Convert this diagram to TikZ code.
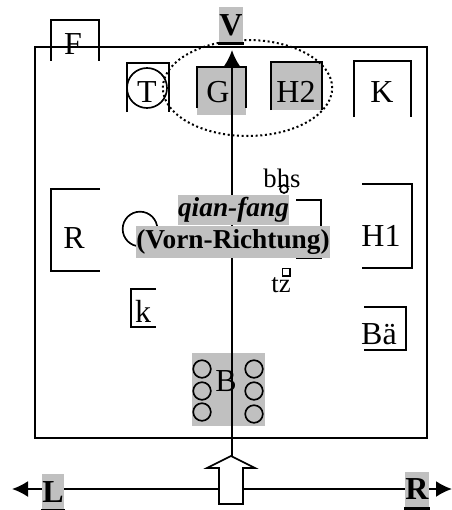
\documentclass[tikz,border=0pt]{standalone}
\usepackage{fontspec}
\usetikzlibrary{arrows.meta}
\setmainfont{Liberation Serif}
\definecolor{labelgray}{HTML}{C0C0C0}
\tikzset{
	wall/.style={line width=1.25pt, line join=miter},
	shade box/.style={fill=labelgray, inner sep=0pt},
	big/.style={font=\fontsize{24}{24}\selectfont, inner sep=0pt},
	small/.style={font=\fontsize{20}{20}\selectfont, inner sep=0pt},
	label box/.style={shade box, font=\fontsize{20.5}{20.5}\selectfont\bfseries}
}
\begin{document}
\begin{tikzpicture}[
		x=0.75pt, y=-0.75pt,
		>={Latex[length=12pt,width=12pt]},
		line width=1.25pt
	]
	\useasboundingbox (0,0) rectangle (452,510);

	\path
	(35,47) coordinate (FrameA)
	(427,438) coordinate (FrameB)
	(232,459) coordinate (AxisS)
	(232,50) coordinate (AxisN)
	(12,489) coordinate (West)
	(452,489) coordinate (East)
	;

	% shaded areas under the axis
	\node[shade box, minimum width=36.5pt, minimum height=36pt] (Gbox) at (221.5,91) {};
	\node[shade box, minimum width=37.5pt, minimum height=36pt] (Hbox) at (296,86) {};
	\node[shade box, minimum width=54.75pt, minimum height=54.75pt] (Bbox) at (228.5,389.5) {};

	\draw[wall] (FrameA) rectangle (FrameB);

	% open-sided furniture
	\foreach \xa/\ya/\xb/\yb in {51/61/99/20, 127/112/169/63, 197/108/246/67, 271/110/322/62, 354/117/411/61} {
		\draw[wall] (\xa,\ya) -- (\xa,\yb) -- (\xb,\yb) -- (\xb,\ya);
	}
	\foreach \xa/\ya/\xb/\yb in {100/189/51/271, 156/289/131/327} {
		\draw[wall] (\xa,\ya) -- (\xb,\ya) -- (\xb,\yb) -- (\xa,\yb);
	}
	\foreach \xa/\ya/\xb/\yb in {362/184/412/268, 364/307/406/350, 296/200/321/258} {
		\draw[wall] (\xa,\ya) -- (\xb,\ya) -- (\xb,\yb) -- (\xa,\yb);
	}

	\draw (147,88) circle (15pt);
	\draw (140,229) circle (13pt);
	\draw (284,189) circle (3pt);
	\draw (282.5,268.5) rectangle (290,276);
	\draw[dotted, line width=1.5pt] (247.5,88) ellipse (63.5pt and 36pt);

	\foreach \y in {369,391,412} {
		\draw (202,\y) circle (6.6pt);
	}
	\foreach \y in {369,391,414} {
		\draw (254,\y) circle (6.6pt);
	}

	\draw[->, line width=1.5pt] (AxisS) -- (AxisN);
	\draw[<->, line width=1.5pt] (West) -- (East);

	\draw[fill=white, line join=miter] (231,456) -- (255,468) -- (243,468) -- (243,504)
	-- (219,504) -- (219,468) -- (207,468) -- cycle;

	\node[big] (F) at (73,44) {F};
	\node[big] (T) at (147,92) {T};
	\node[big] (G) at (218,92) {G};
	\node[big] (H2) at (296,92) {H2};
	\node[big] (K) at (382,92) {K};
	\node[big] (R) at (74,238) {R};
	\node[big] (H1) at (381,236) {H1};
	\node[big] (B) at (226,381) {B};
	\node[big] (k) at (143,311) {k};
	\node[big] (Ba) at (379,334) {Bä};
	\node[small] (bhs) at (282,178) {bhs};
	\node[small] (tz) at (281,285) {tz};

	\node[label box, minimum width=81.75pt, minimum height=23pt] (qian) at (233.5,210) {\itshape qian-fang};
	\node[label box, minimum width=144pt, minimum height=24pt] (vorn) at (233,242) {(Vorn-Richtung)};

	\node[label box, font=\fontsize{24}{24}\selectfont\bfseries, minimum width=18pt, minimum height=27pt] (V) at (231,25) {V};
	\node[label box, font=\fontsize{24}{24}\selectfont\bfseries, minimum width=16.5pt, minimum height=27pt] (L) at (53,492) {L};
	\node[label box, font=\fontsize{24}{24}\selectfont\bfseries, minimum width=18pt, minimum height=27pt] (RR) at (417,489.5) {R};

	\foreach \n in {V, L, RR} {
		\draw[line width=2.2pt] (\n.south west) -- (\n.south east);
	}
\end{tikzpicture}
\end{document}
